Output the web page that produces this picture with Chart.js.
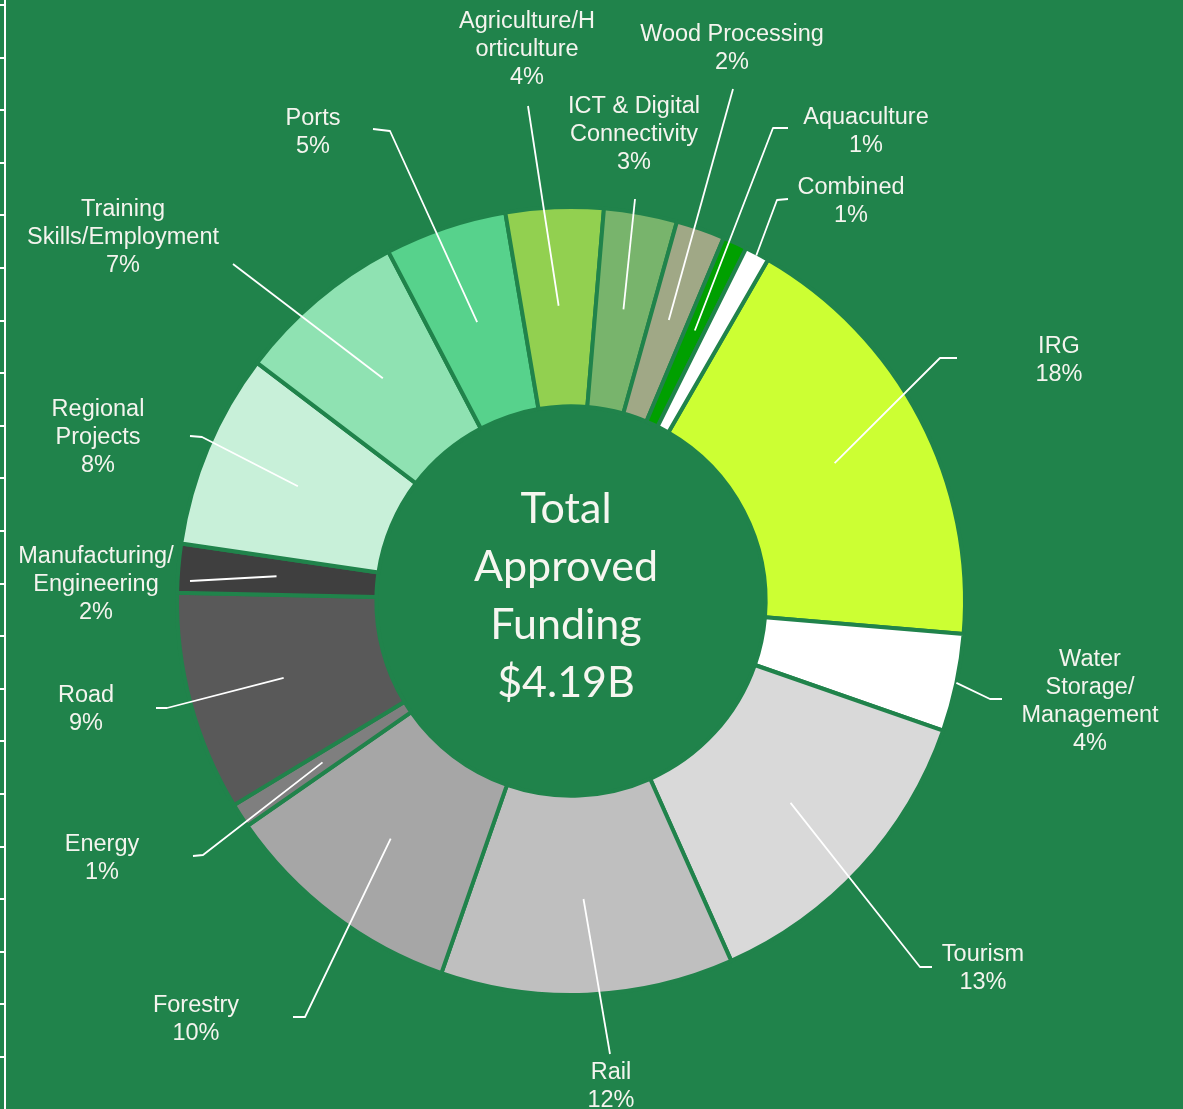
<!DOCTYPE html>
<html>
<head>
<meta charset="utf-8">
<title>Total Approved Funding by Sector</title>
<script src="https://cdn.jsdelivr.net/npm/chart.js@4/dist/chart.umd.min.js"></script>
<style>
  html, body { margin: 0; padding: 0; background: #20834b; }
  #wrap { position: relative; width: 1183px; height: 1109px; }
  canvas { display: block; }
</style>
</head>
<body>
<div id="wrap"><canvas id="funding" width="1183" height="1109"></canvas></div>
<script>
// Sectors, clockwise from the IRG slice
const categories = [
  ['IRG'],
  ['Water', 'Storage/', 'Management'],
  ['Tourism'],
  ['Rail'],
  ['Forestry'],
  ['Energy'],
  ['Road'],
  ['Manufacturing/', 'Engineering'],
  ['Regional', 'Projects'],
  ['Training', 'Skills/Employment'],
  ['Ports'],
  ['Agriculture/H', 'orticulture'],
  ['ICT & Digital', 'Connectivity'],
  ['Wood Processing'],
  ['Aquaculture'],
  ['Combined']
];

// Share of total approved funding, percent
const shares = [18, 4, 13, 12, 10, 1, 9, 2, 8, 7, 5, 4, 3, 2, 1, 1];

const sliceColors = [
  '#ccff33', '#ffffff', '#d9d9d9', '#bfbfbf', '#a6a6a6', '#7f7f7f', '#595959', '#3f3f3f',
  '#c8f0d9', '#8fe2b2', '#57d28c', '#92d050', '#78b46c', '#a0a886', '#00a000', '#ffffff'
];

const centerLines = ['Total', 'Approved', 'Funding', '$4.19B'];

// Label placement: text centre x, first line y, leader start (fraction of outer radius),
// then the remaining leader vertices
const labelLayout = [
  { x: 1059, y: 345, r: 0.755, path: [[940, 358], [957, 358]] },
  { x: 1090, y: 658, r: 1.0,   path: [[990, 699], [1002, 699]] },
  { x: 983,  y: 953, r: 0.757, path: [[920, 967], [932, 967]] },
  { x: 611,  y: 1071, r: 0.757, path: [[610, 1054]] },
  { x: 196,  y: 1004, r: 0.757, path: [[305, 1017], [293, 1017]] },
  { x: 102,  y: 843, r: 0.752, path: [[203, 855], [193, 856]] },
  { x: 86,   y: 694, r: 0.755, path: [[167, 708], [156, 708]] },
  { x: 96,   y: 555, r: 0.75,  path: [[190, 581]] },
  { x: 98,   y: 408, r: 0.752, path: [[202, 437], [190, 436]] },
  { x: 123,  y: 208, r: 0.74,  path: [[233, 264]] },
  { x: 313,  y: 117, r: 0.747, path: [[390, 131], [373, 129]] },
  { x: 527,  y: 20,  r: 0.75,  path: [[528, 106]] },
  { x: 634,  y: 105, r: 0.752, path: [[635, 199]] },
  { x: 732,  y: 33,  r: 0.755, path: [[733, 89]] },
  { x: 866,  y: 116, r: 0.755, path: [[773, 128], [788, 128]] },
  { x: 851,  y: 186, r: 0.995, path: [[777, 200], [788, 199]] }
];

const BG = '#20834b';
const TEXT = '#f4f4ee';

// Thin ruler strip along the left edge of the page
const edgeRuler = {
  id: 'edgeRuler',
  afterDraw(chart) {
    const ctx = chart.ctx;
    ctx.save();
    ctx.fillStyle = '#ffffff';
    ctx.fillRect(4, 0, 2, chart.height);
    for (let y = 5; y < chart.height; y += 52.6) {
      ctx.fillRect(0, Math.round(y) - 1, 5, 2);
    }
    ctx.restore();
  }
};

// Leader lines, category labels and the centre caption
const annotations = {
  id: 'annotations',
  afterDatasetsDraw(chart) {
    const ctx = chart.ctx;
    const meta = chart.getDatasetMeta(0);
    ctx.save();

    ctx.strokeStyle = '#ffffff';
    ctx.lineWidth = 1.8;
    ctx.lineJoin = 'round';
    meta.data.forEach((arc, i) => {
      const p = arc.getProps(['x', 'y', 'startAngle', 'endAngle', 'outerRadius'], true);
      const mid = (p.startAngle + p.endAngle) / 2;
      const r = p.outerRadius * labelLayout[i].r;
      ctx.beginPath();
      ctx.moveTo(p.x + Math.cos(mid) * r, p.y + Math.sin(mid) * r);
      labelLayout[i].path.forEach(([x, y]) => ctx.lineTo(x, y));
      ctx.stroke();
    });

    ctx.fillStyle = TEXT;
    ctx.textAlign = 'center';
    ctx.textBaseline = 'middle';
    ctx.font = '23.5px "Liberation Sans", Arial, sans-serif';
    const lineH = 27.7;
    categories.forEach((lines, i) => {
      const L = labelLayout[i];
      const all = lines.concat([shares[i] + '%']);
      all.forEach((t, k) => ctx.fillText(t, L.x, L.y + 2 + k * lineH));
    });

    const c = meta.data[0].getProps(['x', 'y'], true);
    ctx.font = '43px Lato, "Noto Sans", sans-serif';
    ctx.textBaseline = 'alphabetic';
    ctx.fillStyle = '#f6f6f0';
    centerLines.forEach((t, k) => ctx.fillText(t, c.x - 5, 523 + k * 58));

    ctx.restore();
  }
};

new Chart(document.getElementById('funding'), {
  type: 'doughnut',
  data: {
    labels: categories.map(l => l.join(' ')),
    datasets: [{
      data: shares,
      backgroundColor: sliceColors,
      borderColor: BG,
      borderWidth: 4
    }]
  },
  options: {
    responsive: false,
    devicePixelRatio: 1,
    animation: false,
    rotation: 30,
    radius: 394,
    cutout: '49.4%',
    layout: { padding: { left: 177, right: 218, top: 207, bottom: 114 } },
    plugins: {
      legend: { display: false },
      title: { display: false },
      tooltip: { enabled: false }
    }
  },
  plugins: [annotations, edgeRuler]
});
</script>
</body>
</html>
